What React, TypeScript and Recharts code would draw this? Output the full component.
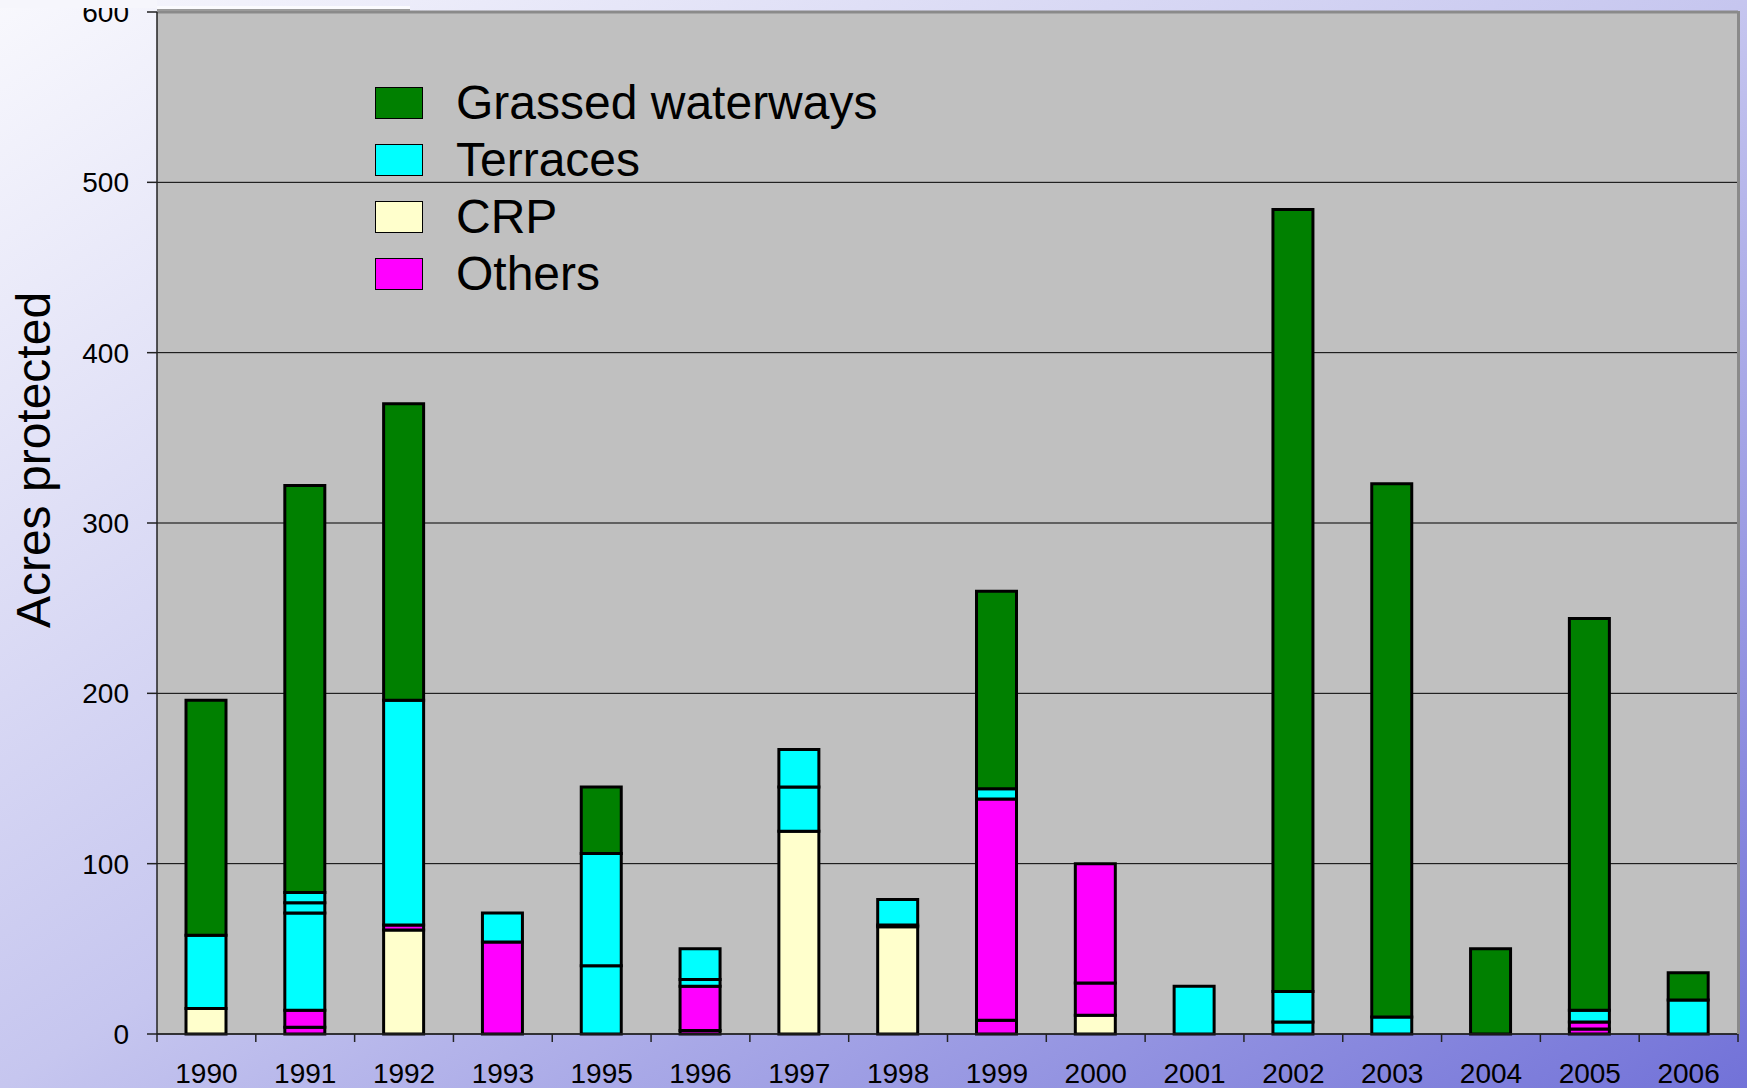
import { BarChart, Bar, XAxis, YAxis, CartesianGrid, ReferenceLine } from "recharts";

const years = ["1990", "1991", "1992", "1993", "1995", "1996", "1997", "1998", "1999", "2000", "2001", "2002", "2003", "2004", "2005", "2006"];

// stacked bottom to top, several programs share a colour
const crp = [15, 0, 61, 0, 0, 0, 119, 63, 0, 11, 0, 0, 0, 0, 0, 0];
const others1 = [0, 4, 3, 54, 0, 2, 0, 1, 8, 19, 0, 0, 0, 0, 3, 0];
const others2 = [0, 10, 0, 0, 0, 26, 0, 0, 130, 70, 0, 0, 0, 0, 4, 0];
const terraces1 = [43, 57, 132, 17, 40, 4, 26, 15, 6, 0, 28, 7, 10, 0, 7, 20];
const terraces2 = [0, 6, 0, 0, 66, 18, 22, 0, 0, 0, 0, 18, 0, 0, 0, 0];
const terraces3 = [0, 6, 0, 0, 0, 0, 0, 0, 0, 0, 0, 0, 0, 0, 0, 0];
const grassed = [138, 239, 174, 0, 39, 0, 0, 0, 116, 0, 0, 459, 313, 50, 230, 16];

const yTicks = [0, 100, 200, 300, 400, 500, 600];

const legendItems = [
  { name: "Grassed waterways", color: "#008000" },
  { name: "Terraces", color: "#00FFFF" },
  { name: "CRP", color: "#FFFFCC" },
  { name: "Others", color: "#FF00FF" },
];

const series = [
  { key: "crp", color: "#FFFFCC" },
  { key: "others1", color: "#FF00FF" },
  { key: "others2", color: "#FF00FF" },
  { key: "terraces1", color: "#00FFFF" },
  { key: "terraces2", color: "#00FFFF" },
  { key: "terraces3", color: "#00FFFF" },
  { key: "grassed", color: "#008000" },
];

const data = years.map((year, i) => ({
  year,
  crp: crp[i],
  others1: others1[i],
  others2: others2[i],
  terraces1: terraces1[i],
  terraces2: terraces2[i],
  terraces3: terraces3[i],
  grassed: grassed[i],
}));

const W = 1747;
const H = 1088;
const PLOT_LEFT = 157;
const PLOT_RIGHT = 1738;
const STEP = (PLOT_RIGHT - PLOT_LEFT) / years.length;

function XTick(props: any) {
  const { x, y, payload, index } = props;
  const half = STEP / 2;
  return (
    <g>
      <line x1={x - half} x2={x - half} y1={y - 8} y2={y} stroke="#222" strokeWidth={1.5} />
      {index === years.length - 1 && (
        <line x1={x + half} x2={x + half} y1={y - 8} y2={y} stroke="#222" strokeWidth={1.5} />
      )}
      <text x={x} y={y + 41} textAnchor="middle" fontSize={28} fill="#000">
        {payload.value}
      </text>
    </g>
  );
}

function YTitle() {
  return (
    <text transform="translate(50,460) rotate(-90)" textAnchor="middle" fontSize={48} fill="#000">
      Acres protected
    </text>
  );
}

function App() {
  return (
    <div
      style={{
        position: "absolute",
        left: 0,
        top: 0,
        width: W,
        height: H,
        overflow: "hidden",
        fontFamily: "'Liberation Sans', Arial, sans-serif",
        background: "linear-gradient(to bottom right, #f8f8fd 0%, #c6c6ef 50%, #7272d8 100%)",
      }}
    >
      <BarChart
        width={W}
        height={H}
        data={data}
        margin={{ top: 12, right: W - PLOT_RIGHT, bottom: 0, left: 0 }}
        barSize={40}
      >
        <CartesianGrid vertical={false} stroke="#000" fill="#C0C0C0" fillOpacity={1} />
        <XAxis
          dataKey="year"
          height={54}
          interval={0}
          tickLine={false}
          tickSize={8}
          tickMargin={0}
          axisLine={{ stroke: "#222", strokeWidth: 1.5 }}
          tick={<XTick />}
        />
        <YAxis
          width={PLOT_LEFT}
          domain={[0, 600]}
          ticks={yTicks}
          interval={0}
          tickSize={10}
          tickMargin={18}
          tickLine={{ stroke: "#222", strokeWidth: 1.5 }}
          axisLine={{ stroke: "#222", strokeWidth: 1.5 }}
          tick={{ fill: "#000", fontSize: 28 }}
          label={<YTitle />}
        />
        <ReferenceLine y={600} stroke="#8a8a8a" strokeWidth={3} />
        {series.map((s) => (
          <Bar
            key={s.key}
            dataKey={s.key}
            stackId="a"
            fill={s.color}
            stroke="#000"
            strokeWidth={3}
            isAnimationActive={false}
          />
        ))}
      </BarChart>
      {/* slide title band overlapping the top of the chart */}
      <div style={{ position: "absolute", left: 0, top: 0, width: 157, height: 8, background: "#f6f6fc" }} />
      <div style={{ position: "absolute", left: 157, top: 6, width: 253, height: 3, background: "#fbfbfe", borderBottom: "2px solid #9a9a9a" }} />
      <div style={{ position: "absolute", left: PLOT_RIGHT - 1, top: 11, width: 3, height: 1023, background: "#8a8a8a" }} />
      <div style={{ position: "absolute", left: 375, top: 74 }}>
        {legendItems.map((item) => (
          <div key={item.name} style={{ display: "flex", alignItems: "center", height: 57 }}>
            <div
              style={{
                width: 46,
                height: 30,
                background: item.color,
                border: "1.5px solid #000",
                marginRight: 33,
              }}
            />
            <span style={{ fontSize: 48, color: "#000", lineHeight: "57px" }}>{item.name}</span>
          </div>
        ))}
      </div>
    </div>
  );
}

export default App;
